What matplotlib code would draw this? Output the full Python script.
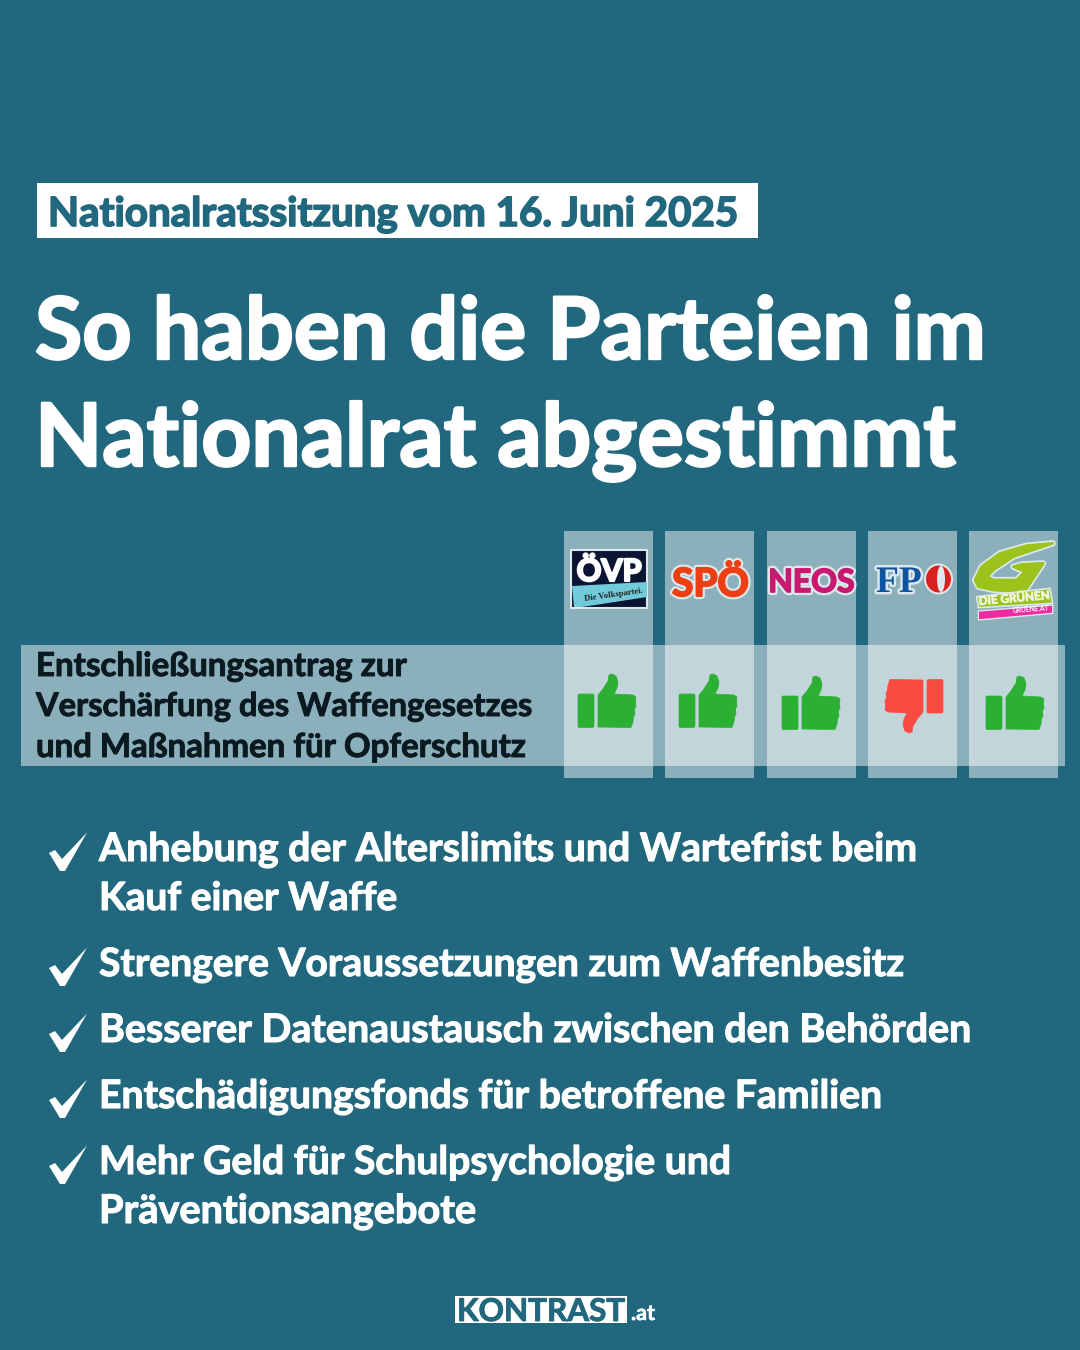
import matplotlib
matplotlib.use("Agg")
import matplotlib.pyplot as plt
from matplotlib.patches import Rectangle, Polygon, Ellipse
import matplotlib.patheffects as pe

BG = "#21677D"
DARK = "#0B1A20"
header = "Nationalratssitzung vom 16. Juni 2025"
title = ["So haben die Parteien im", "Nationalrat abgestimmt"]
motion = ["Entschließungsantrag zur", "Verschärfung des Waffengesetzes", "und Maßnahmen für Opferschutz"]
parties = ["ÖVP", "SPÖ", "NEOS", "FPÖ", "GRÜNE"]
votes = ["pro", "pro", "pro", "contra", "pro"]
bullets = [
    ["Anhebung der Alterslimits und Wartefrist beim", "Kauf einer Waffe"],
    ["Strengere Voraussetzungen zum Waffenbesitz"],
    ["Besserer Datenaustausch zwischen den Behörden"],
    ["Entschädigungsfonds für betroffene Familien"],
    ["Mehr Geld für Schulpsychologie und", "Präventionsangebote"],
]

fig = plt.figure(figsize=(10.8, 13.5), dpi=100, facecolor=BG)
ax = fig.add_axes([0, 0, 1, 1])
ax.set_xlim(0, 1080); ax.set_ylim(1350, 0); ax.axis("off")
fig.canvas.draw()
rend = fig.canvas.get_renderer()
FONT = "Lato"


def fit(s, x0, x1, base, color="white", weight="bold", start=40, z=5, thick=0.028):
    t = ax.text(x0, base, s, fontsize=start, family=FONT, weight=weight,
                color=color, ha="left", va="baseline", zorder=z)
    w = t.get_window_extent(rend).width
    fs = start * (x1 - x0) / w
    t.set_fontsize(fs)
    t.set_path_effects([pe.withStroke(linewidth=fs * thick, foreground=color)])
    return t


def zoomed(points):
    return [(560 + a / 3, 525 + b / 3) for a, b in points]


# header and title
ax.add_patch(Rectangle((37, 183), 721, 55, fc="white", ec="none"))
fit(header, 48, 738, 226, BG, thick=0.04)
fit(title[0], 35, 985, 359)
fit(title[1], 35, 956, 466)

# party columns and motion band
col_x = [564, 665, 767, 868, 969]
for x in col_x:
    ax.add_patch(Rectangle((x, 531), 89, 247, fc="white", alpha=0.48, ec="none", zorder=1))
ax.add_patch(Rectangle((21, 645), 1044, 121, fc="white", alpha=0.48, ec="none", zorder=2))
for s, x1, b in zip(motion, [407, 532, 526], [676, 716, 757]):
    fit(s, 36, x1, b, DARK)

# thumbs (shape given in px relative to thumb box origin)
palm = [(0, 1), (1, 0), (15, 0), (16, 1), (16, 32), (15, 33.5), (1, 33.5), (0, 32.5)]
hand = [(20, 1), (25, -5), (30, -13), (31, -19), (34, -20), (38, -18), (40, -12), (39, -6), (36, 0),
        (55, 1), (58, 3), (57.5, 7), (58, 12), (56.5, 15), (57, 20), (55.5, 23), (55, 28), (53, 33.5), (20, 33)]
thumb_origin = [(578, 694), (679, 694), (782, 696), (943, 713), (986, 696)]
for v, (ox, oy) in zip(votes, thumb_origin):
    sign, col = (1, "#2BB033") if v == "pro" else (-1, "#FA4B42")
    for shp in (palm, hand):
        ax.add_patch(Polygon([(ox + sign * a, oy + sign * b) for a, b in shp], closed=True,
                             fc=col, ec=col, lw=0.5, joinstyle="round", zorder=4))

GLOW = "#DCE8EC"
GREEN = "#9BC31C"
glow = [pe.withStroke(linewidth=3.5, foreground=GLOW)]

# ÖVP logo
ax.add_patch(Rectangle((571, 550), 76, 58, fc="#0C1433", ec=GLOW, lw=1.5, zorder=5))
ax.text(609, 581, "ÖVP", color="white", fontsize=22, family="Lato", weight="bold", ha="center", va="baseline", zorder=6,
        path_effects=[pe.withStroke(linewidth=1.6, foreground="white")])
ax.add_patch(Polygon([(572, 586), (647, 582), (647, 597), (582, 607), (574, 607)], fc="#72CBDB", ec="none", zorder=6))
ax.text(614, 595, "Die Volkspartei.", color="#222222", fontsize=6.2, family="Liberation Serif", weight="bold",
        ha="center", va="center", rotation=8, zorder=7)

# SPÖ, NEOS, FPÖ logos
ax.text(710.5, 596, "SPÖ", color="#EE3F14", fontsize=28, family="Lato", weight="bold", ha="center", va="baseline", zorder=6,
        path_effects=[pe.withStroke(linewidth=4.5, foreground=GLOW), pe.withStroke(linewidth=1.4, foreground="#EE3F14")])
ax.text(811.5, 592, "NEOS", color="#C8186F", fontsize=23, family="Lato", weight="bold", ha="center", va="baseline", zorder=6,
        path_effects=[pe.withStroke(linewidth=4.5, foreground=GLOW), pe.withStroke(linewidth=1.2, foreground="#C8186F")])
ax.text(876, 592, "FP", color="#0D55A0", fontsize=27, family="Liberation Serif", weight="bold", ha="left", va="baseline", zorder=6,
        path_effects=glow)
ax.add_patch(Ellipse((938.5, 579), 27, 29, fc="#D8201C", ec=GLOW, lw=1.5, zorder=6))
ax.add_patch(Ellipse((941, 579), 8, 26, fc=GLOW, ec="none", zorder=7))

# Grüne logo
sw = [(1478, 55), (1400, 62), (1320, 85), (1265, 125), (1245, 165), (1255, 185), (1300, 195), (1375, 200), (1400, 190),
      (1450, 115), (1385, 118), (1360, 125), (1395, 140), (1370, 165), (1300, 165), (1282, 155), (1300, 135), (1360, 95)]
ax.add_patch(Polygon(zoomed(sw), fc=GREEN, ec=GLOW, lw=4.5, zorder=5.5, joinstyle="round"))
ax.add_patch(Polygon(zoomed(sw), fc=GREEN, ec=GREEN, lw=2, zorder=6, joinstyle="round"))
ax.add_patch(Polygon(zoomed([(1250, 215), (1470, 190), (1478, 235), (1255, 248)]), fc=GREEN, ec=GLOW, lw=1.2, zorder=6))
ax.text(1014, 598.5, "DIE GRÜNEN", color="#EEF6D8", fontsize=8.4, family="Lato", weight="bold", ha="center", va="center",
        rotation=5, zorder=7, path_effects=[pe.withStroke(linewidth=0.6, foreground="#EEF6D8")])
ax.add_patch(Polygon(zoomed([(1255, 258), (1478, 240), (1478, 265), (1255, 285)]), fc="#F02AA0", ec=GLOW, lw=1, zorder=6))
ax.text(1031, 609.5, "GRUENE.AT", color="white", fontsize=4.8, family="Lato", weight="bold", ha="center", va="center",
        rotation=4, zorder=7)

# bullets
check = [(49, 853), (55, 850), (62, 859), (87, 832.5), (65, 871), (60, 871)]
baselines = [[861, 910], [976], [1042], [1108], [1174, 1223]]
rights = [[917, 397], [904], [971], [882], [731, 476]]
for lines, bs, rs in zip(bullets, baselines, rights):
    d = bs[0] - 861
    ax.add_patch(Polygon([(x, y + d) for x, y in check], fc="white", ec="none", zorder=5))
    for s, b, x1 in zip(lines, bs, rs):
        fit(s, 99, x1, b)

# footer
ax.add_patch(Rectangle((455, 1296), 172, 27, fc="white", ec="none"))
fit("KONTRAST", 457, 625, 1321, BG)
fit(".at", 631, 655, 1320)

fig.savefig("out.png", dpi=100, facecolor=BG)
